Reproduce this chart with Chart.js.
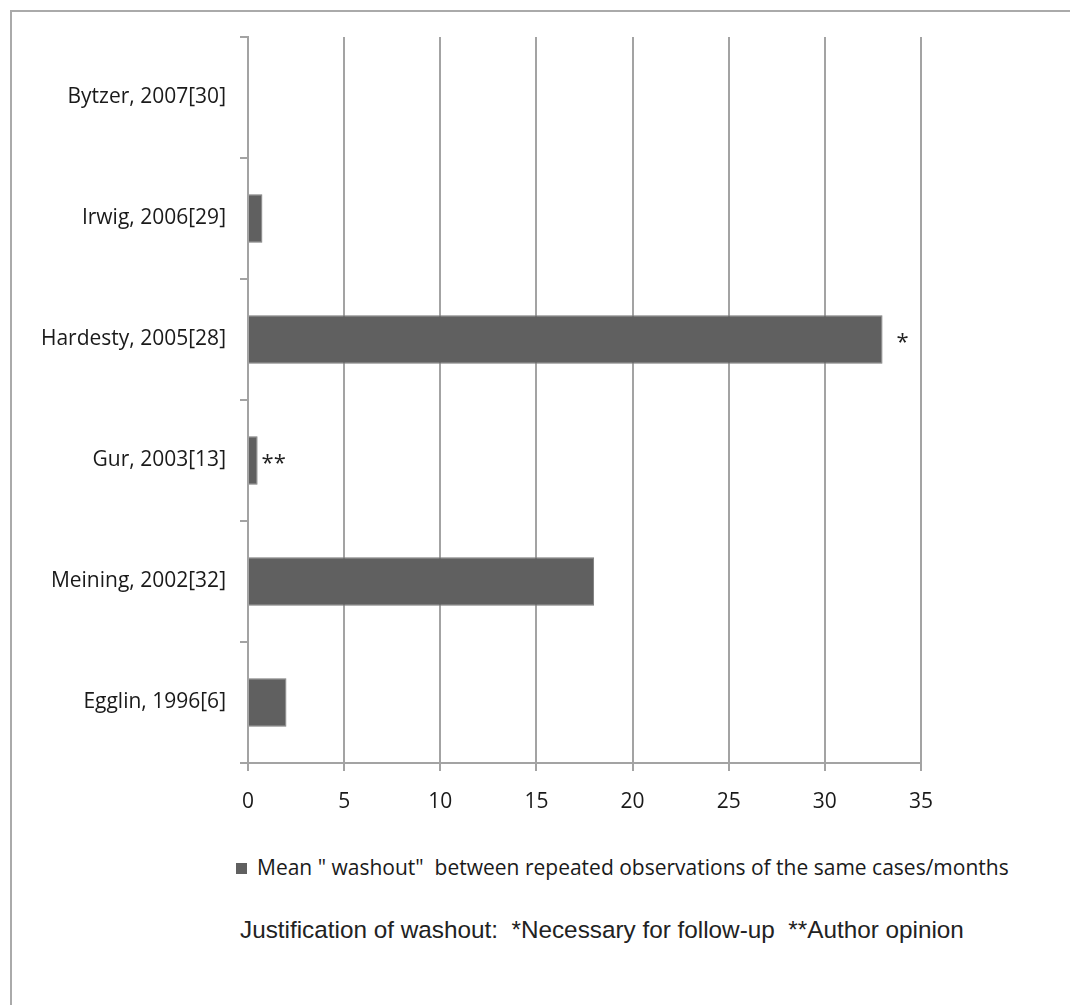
<!DOCTYPE html>
<html>
<head>
<meta charset="utf-8">
<script src="https://cdn.jsdelivr.net/npm/chart.js@4.4.0/dist/chart.umd.min.js"></script>
<style>
  body { margin: 0; background: #fff; }
  #wrap { position: relative; width: 1070px; height: 1005px; overflow: hidden; background: #fff; }
  #frame { position: absolute; left: 10px; top: 10px; right: -10px; bottom: -10px; border-left: 2px solid #aaa; border-top: 2px solid #aaa; }
  #myChart { position: absolute; left: 0; top: 0; }
  #legend { position: absolute; left: 236px; top: 853px; font-family: "Open Sans", sans-serif; font-size: 21px; color: #1a1a1a; white-space: pre; }
  #legend .box { display: inline-block; width: 11px; height: 11px; background: #606060; margin-right: 10px; vertical-align: 1px; }
  #note { position: absolute; left: 240px; top: 916px; font-family: "Liberation Sans", Arial, sans-serif; font-size: 24.3px; color: #222; white-space: pre; }
</style>
</head>
<body>
<div id="wrap">
  <div id="frame"></div>
  <canvas id="myChart" width="1070" height="830"></canvas>
  <div id="legend"></div>
  <div id="note"></div>
</div>
<script>
// dados do gráfico
const studies = ['Bytzer, 2007[30]', 'Irwig, 2006[29]', 'Hardesty, 2005[28]', 'Gur, 2003[13]', 'Meining, 2002[32]', 'Egglin, 1996[6]'];
const washout = [0, 0.75, 33, 0.5, 18, 2];
const marks = ['', '', '*', '**', '', ''];
const xTicks = [0, 5, 10, 15, 20, 25, 30, 35];
const seriesLabel = 'Mean " washout"  between repeated observations of the same cases/months';
const noteText = 'Justification of washout:  *Necessary for follow-up  **Author opinion';

document.addEventListener("DOMContentLoaded", function() {
  // legenda e nota em HTML
  document.getElementById('legend').innerHTML = '<span class="box"></span>' + seriesLabel.replace(/"/g, '&quot;');
  document.getElementById('note').textContent = noteText;

  const gray = '#a3a3a3';
  const tickFont = { family: '"Open Sans", sans-serif', size: 21 };

  // desenha os asteriscos ao lado das barras
  const marksPlugin = {
    id: 'marks',
    afterDatasetsDraw(chart) {
      const ctx = chart.ctx;
      const meta = chart.getDatasetMeta(0);
      ctx.save();
      ctx.font = '22px "Open Sans", sans-serif';
      ctx.fillStyle = '#222';
      ctx.textBaseline = 'middle';
      marks.forEach(function(m, i) {
        if (!m) return;
        const bar = meta.data[i];
        const gap = m.length > 1 ? 4 : 14;
        ctx.fillText(m, bar.x + gap, bar.y + 3);
      });
      ctx.restore();
    }
  };

  const ctx = document.getElementById('myChart').getContext('2d');
  const myChart = new Chart(ctx, {
    type: 'bar',
    data: {
      labels: studies,
      datasets: [{
        label: seriesLabel,
        data: washout,
        backgroundColor: '#606060',
        borderColor: '#7a7a7a',
        borderWidth: 1,
        categoryPercentage: 0.8,
        barPercentage: 0.5
      }]
    },
    options: {
      indexAxis: 'y',
      responsive: false,
      animation: false,
      layout: { padding: { left: 0, top: 37, right: 149, bottom: 0 } },
      plugins: {
        legend: { display: false },
        tooltip: { enabled: false }
      },
      scales: {
        x: {
          min: 0,
          max: 35,
          afterBuildTicks: function(scale) { scale.ticks = xTicks.map(v => ({ value: v })); },
          afterFit: function(scale) { scale.height = 67; },
          ticks: { color: '#1a1a1a', font: tickFont, padding: 18 },
          grid: { color: gray, lineWidth: 2, tickLength: 8 },
          border: { color: gray, width: 2 }
        },
        y: {
          afterFit: function(scale) { scale.width = 248; },
          ticks: { color: '#1a1a1a', font: tickFont, padding: 14 },
          grid: { color: gray, lineWidth: 2, tickLength: 8, drawOnChartArea: false, offset: true },
          border: { color: gray, width: 2 }
        }
      }
    },
    plugins: [marksPlugin]
  });
});
</script>
</body>
</html>
